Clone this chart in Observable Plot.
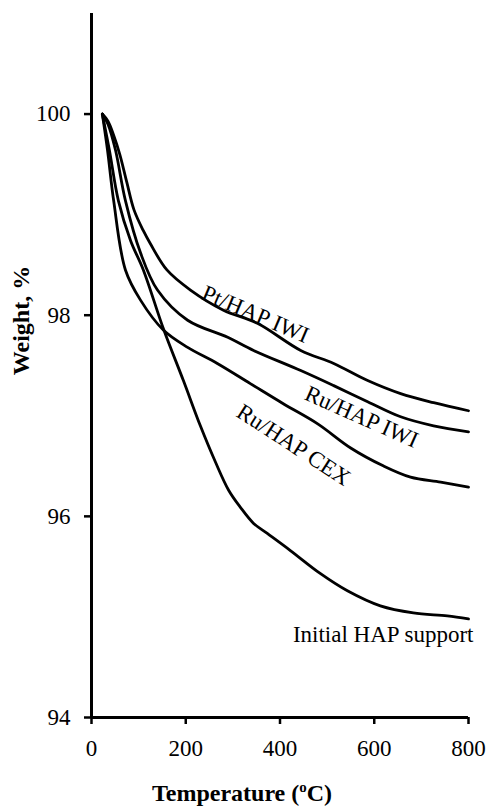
<!DOCTYPE html>
<html>
<head>
<meta charset="utf-8">
<script src="https://cdn.jsdelivr.net/npm/d3@7"></script>
<script src="https://cdn.jsdelivr.net/npm/@observablehq/plot@0.6"></script>
<style>
  body { margin: 0; background: #fff; }
  #chart svg { display: block; }
  #chart svg text { font-family: 'Liberation Serif', 'Times New Roman', Times, serif; font-variant: normal; }
</style>
</head>
<body>
<div id="chart"></div>
<script>
// ---- data ----
const ptTemp   = [23, 35, 47, 60, 75, 90, 110, 125, 160, 210, 280, 352, 444, 514, 586, 656, 726, 800];
const ptWeight = [100, 99.93, 99.79, 99.6, 99.32, 99.05, 98.84, 98.71, 98.45, 98.25, 98.05, 97.92, 97.65, 97.52, 97.35, 97.22, 97.13, 97.05];

const ruTemp   = [23, 35, 51, 72, 104, 140, 204, 289, 344, 444, 514, 586, 656, 726, 800];
const ruWeight = [100, 99.9, 99.64, 99.14, 98.62, 98.25, 97.95, 97.78, 97.65, 97.45, 97.30, 97.14, 96.99, 96.90, 96.84];

const cexTemp   = [23, 34, 47, 72, 104, 153, 204, 267, 337, 407, 480, 550, 620, 677, 741, 800];
const cexWeight = [100, 99.64, 99.14, 98.45, 98.15, 97.85, 97.68, 97.52, 97.32, 97.12, 96.92, 96.68, 96.50, 96.39, 96.34, 96.29];

const hapTemp   = [23, 38, 57, 83, 110, 153, 195, 231, 263, 291, 316, 344, 373, 422, 486, 543, 613, 683, 755, 800];
const hapWeight = [100, 99.64, 99.14, 98.74, 98.45, 97.86, 97.35, 96.90, 96.54, 96.26, 96.09, 95.93, 95.83, 95.66, 95.43, 95.26, 95.11, 95.04, 95.01, 94.98];

const seriesNames = ["Pt/HAP IWI", "Ru/HAP IWI", "Ru/HAP CEX", "Initial HAP support"];

const labelText   = ["Pt/HAP IWI", "Ru/HAP IWI", "Ru/HAP CEX", "Initial HAP support"];
const labelTemp   = [348, 573, 429, 800];
const labelWeight = [98.01, 96.99, 96.71, 94.82];
const labelAngle  = [23, 24, 33, 0];
const labelAnchor = ["middle", "middle", "middle", "end"];

const xTicks = [0, 200, 400, 600, 800];
const yTicks = [94, 96, 98, 100];
const xDomain = [0, 800];
const yDomain = [94, 101];
const xTitle = "Temperature (oC)";
const yTitle = "Weight, %";

// ---- build tables ----
const allTemps = [ptTemp, ruTemp, cexTemp, hapTemp];
const allWeights = [ptWeight, ruWeight, cexWeight, hapWeight];
const rows = [];
seriesNames.forEach((name, s) => {
  allTemps[s].forEach((t, i) => rows.push({series: name, temp: t, weight: allWeights[s][i]}));
});
const labels = labelText.map((t, i) => ({text: t, temp: labelTemp[i], weight: labelWeight[i], angle: labelAngle[i], anchor: labelAnchor[i]}));

const font = "'Liberation Serif', 'Times New Roman', Times, serif";

const chart = Plot.plot({
  width: 490,
  height: 810,
  marginLeft: 91,
  marginRight: 22,
  marginTop: 13,
  marginBottom: 93,
  style: {fontFamily: font, fontSize: "23px", color: "#000", background: "#fff"},
  x: {domain: xDomain},
  y: {domain: yDomain},
  marks: [
    Plot.axisY({ticks: yTicks, tickFormat: d => String(d), tickSize: 7, tickPadding: 14, fontSize: 23, fontFamily: font, strokeWidth: 2.5, label: null}),
    Plot.axisX({ticks: xTicks, tickFormat: d => String(d), tickSize: 7, tickPadding: 15, fontSize: 23, fontFamily: font, strokeWidth: 2.5, label: null}),
    Plot.ruleX([xDomain[0]], {stroke: "#000", strokeWidth: 3}),
    Plot.ruleY([yDomain[0]], {stroke: "#000", strokeWidth: 3}),
    Plot.line(rows, {x: "temp", y: "weight", z: "series", stroke: "#000", strokeWidth: 2.8, curve: "catmull-rom"}),
    ...labels.map(l => Plot.text([l], {
      x: "temp", y: "weight", text: "text", rotate: l.angle, textAnchor: l.anchor,
      dx: l.anchor === "end" ? 5 : 0, fontSize: 23, fontFamily: font, fill: "#000"
    })),
    Plot.text([yTitle], {frameAnchor: "left", textAnchor: "middle", lineAnchor: "middle", dx: -70, dy: -45, rotate: -90, fontWeight: "bold", fontSize: 24, fontFamily: font, fill: "#000"}),
    Plot.text([xTitle], {frameAnchor: "bottom", textAnchor: "middle", lineAnchor: "middle", dx: -38, dy: 76, fontWeight: "bold", fontSize: 24, fontFamily: font, fill: "#000"})
  ]
});

// superscript "o" in the x title
d3.select(chart).selectAll("text").each(function() {
  if (this.textContent === xTitle) {
    const t = d3.select(this);
    t.text(null);
    t.append("tspan").text("Temperature (");
    t.append("tspan").attr("font-size", "15px").attr("dy", "-9px").text("o");
    t.append("tspan").attr("dy", "9px").text("C)");
  }
});

document.getElementById("chart").appendChild(chart);
</script>
</body>
</html>
